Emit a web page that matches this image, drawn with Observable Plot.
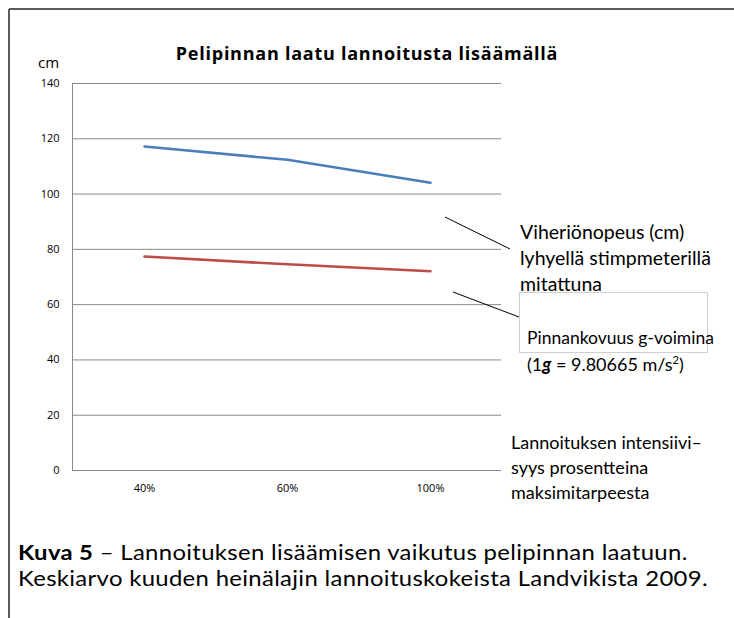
<!DOCTYPE html>
<html><head><meta charset="utf-8">
<script src="https://cdn.jsdelivr.net/npm/d3@7"></script>
<script src="https://cdn.jsdelivr.net/npm/@observablehq/plot@0.6"></script>
<style>
body{margin:0;background:#fff;}
#wrap{position:relative;width:734px;height:618px;overflow:hidden;background:#fff;font-family:Lato,sans-serif;}
#wrap .abs{position:absolute;white-space:nowrap;color:#000;}
#chart{position:absolute;left:0;top:0;}
</style></head>
<body>
<div id="wrap">
  <div id="chart"></div>
  <svg id="ov" width="734" height="618" style="position:absolute;left:0;top:0;pointer-events:none">
    <line x1="9" y1="9" x2="734" y2="9" stroke="#5a5a5a" stroke-width="2"/>
    <line x1="9" y1="9" x2="9" y2="618" stroke="#5a5a5a" stroke-width="2"/>
    <line x1="445" y1="217" x2="510" y2="249" stroke="#000" stroke-width="1"/>
    <line x1="453" y1="292" x2="519" y2="317" stroke="#000" stroke-width="1"/>
    <rect x="519.5" y="292.5" width="188" height="60" fill="#fff" stroke="#cfcfcf" stroke-width="1"/>
  </svg>
  <div class="abs" style="left:0;width:734px;top:41px;text-align:center;font-family:'Open Sans',sans-serif;font-weight:bold;font-size:18px;letter-spacing:0.75px;">Pelipinnan laatu lannoitusta lisäämällä</div>
  <div class="abs" style="left:38px;top:52px;font-family:'Open Sans',sans-serif;font-size:15px;">cm</div>
  <div class="abs" style="left:520px;top:219px;font-size:19.5px;line-height:26px;">Viheriönopeus (cm)<br>lyhyellä stimpmeterillä<br>mitattuna</div>
  <div class="abs" style="left:527px;top:325px;font-size:17.5px;line-height:26px;">Pinnankovuus g-voimina<br><span style="font-size:18px">(1<b><i>g</i></b> = 9.80665 m/s<sup style="font-size:11px;line-height:0">2</sup>)</span></div>
  <div class="abs" style="left:511px;top:430px;font-size:18px;line-height:25px;">Lannoituksen intensiivi–<br>syys prosentteina<br>maksimitarpeesta</div>
  <div class="abs" style="left:18px;top:539px;font-size:21.5px;line-height:26px;letter-spacing:0.3px;transform:scaleX(1.11);transform-origin:0 0;"><b>Kuva 5</b> – Lannoituksen lisäämisen vaikutus pelipinnan laatuun.<br>Keskiarvo kuuden heinälajin lannoituskokeista Landvikista 2009.</div>
</div>
<script>
const categories = ["40%", "60%", "100%"];
const greenSpeed = [117.2, 112.4, 104.1];
const hardness = [77.4, 74.6, 72.1];
const yTicks = [0, 20, 40, 60, 80, 100, 120, 140];

const rows = [];
categories.forEach((c, i) => {
  rows.push({cat: c, value: greenSpeed[i], series: "speed"});
  rows.push({cat: c, value: hardness[i], series: "hard"});
});

const chart = Plot.plot({
  width: 734,
  height: 618,
  marginLeft: 72,
  marginRight: 233,
  marginTop: 83,
  marginBottom: 148,
  style: {fontFamily: "'Open Sans', sans-serif", fontSize: "11px", background: "transparent", color: "#000"},
  x: {type: "point", domain: categories, padding: 0.5, label: null},
  y: {domain: [0, 140], label: null},
  color: {domain: ["speed", "hard"], range: ["#4a7ebb", "#be4b48"]},
  marks: [
    Plot.ruleY(yTicks, {stroke: "#8a8a8a", strokeWidth: 1}),
    Plot.frame({anchor: "left", stroke: "#8a8a8a", strokeWidth: 1}),
    Plot.axisY({ticks: yTicks, tickSize: 0, tickPadding: 13, label: null, fontSize: 11}),
    Plot.axisX({tickSize: 0, tickPadding: 14, label: null, fontSize: 11}),
    Plot.line(rows, {x: "cat", y: "value", z: "series", stroke: "series", strokeWidth: 2.6})
  ]
});
document.getElementById("chart").appendChild(chart);
</script>
</body></html>
